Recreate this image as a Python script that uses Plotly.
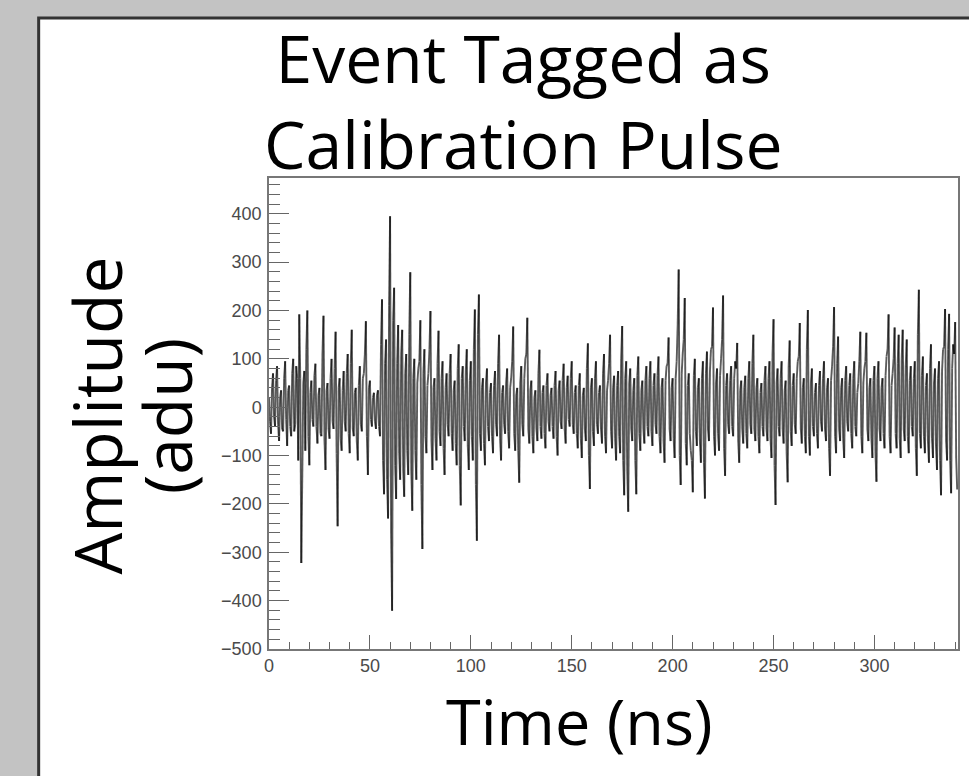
import plotly.graph_objects as go

# Waveform amplitude (adu) at whole ns
amp_0_99 = [
    20, -55, 70, -40, 85, -70, 35, -50, 95, -80,
    45, -60, 100, -35, 60, 192, -322, 50, -90, 200,
    -120, 55, -40, 90, -75, 40, -60, 189, -130, 50,
    -65, 100, -45, 156, -246, 60, -90, 75, -50, 110,
    -95, 160, -60, 40, -110, 85, -50, 70, 178, -140,
    55, -40, 30, -45, 35, -60, 223, -180, 140, -230,
    395, -421, 247, -190, 170, -150, 160, -185, 110, -140,
    279, -214, 100, -150, 80, 180, -293, 120, -95, 70,
    199, -130, 60, -110, 158, -80, 95, -140, 70, -60,
    110, -90, 55, -120, 130, -203, 85, -70, 120, -130,
]
amp_100_199 = [
    95, -110, 202, -276, 233, -90, 60, -120, 80, -70,
    50, -95, 75, -60, 150, -110, 45, -55, 80, -85,
    60, 167, -90, 40, -156, 85, -60, 100, 185, -75,
    55, -95, 35, -70, 119, -65, 45, -85, 70, -50,
    40, -65, 75, -100, 55, -45, 90, -75, 65, -40,
    95, -55, 45, -85, 70, -105, 40, -70, 132, -169,
    60, -80, 95, -55, 45, -75, 110, -95, 55, 150,
    -85, 65, -110, 75, -95, 168, -182, 95, -216, 80,
    -70, 60, -180, 105, -90, 55, -75, 85, -60, 95,
    -80, 70, -55, 105, -95, 60, -115, 85, 144, -70,
]
amp_200_299 = [
    60, -105, 95, 285, -161, 110, 226, -120, 70, -90,
    -176, 100, -80, 60, -115, 95, -189, 115, -70, 120,
    206, -100, 80, -90, 100, 231, -142, 70, -55, 85,
    -60, 95, 133, -115, 55, -75, 65, -85, 95, -55,
    150, -70, 60, -95, 50, -60, 85, -70, 95, -105,
    182, -202, 80, -60, 95, -75, 55, -155, 138, -80,
    70, -55, 95, 174, -75, 60, -95, 201, -100, 80,
    -60, 50, -85, 75, -50, 95, -70, 60, -142, 85,
    207, -95, 146, -70, 60, -105, 85, -50, 70, -85,
    95, -60, 50, 156, -95, 80, 154, -70, 60, -105,
]
amp_300_341 = [
    85, -154, 95, -70, 60, -85, 105, 192, -95, 70,
    165, -85, 150, -105, 160, -70, 140, -95, 85, -60,
    95, -142, 243, -85, 105, -95, 70, -115, 130, -105,
    80, -130, 95, -182, 120, 203, -110, 193, -178, 130,
    176, -170,
]
# Samples in between (at whole ns + 0.5)
half_0_99 = [
    -30, 40, -20, 55, -35, 20, -45, 60, -25, 35,
    -40, 70, -50, 85, -110, 60, -140, 75, 120, -60,
    30, -25, 65, -40, 25, -55, 110, -70, 35, -45,
    60, -30, 80, -95, 40, -65, 35, -30, 70, -55,
    90, -45, 30, -70, 45, -35, 60, 110, -60, 40,
    -25, 20, -30, 25, -40, 130, -110, 90, -150, 210,
    -260, 180, -120, 90, -95, 110, -130, 70, -90, 150,
    -130, 60, -90, 50, 95, -160, 70, -60, 45, 120,
    -70, 40, -65, 90, -50, 60, -85, 40, -35, 70,
    -55, 35, -75, 80, -120, 60, -40, 75, -80, 55,
]
half_100_199 = [
    -60, 120, -160, 150, -55, 40, -75, 50, -40, 30,
    -60, 45, -35, 90, -65, 30, -35, 50, -50, 40,
    95, -55, 25, -90, 50, -35, 60, 110, -45, 35,
    -60, 20, -45, 70, -40, 30, -55, 45, -30, 25,
    -40, 45, -60, 35, -30, 55, -45, 40, -25, 60,
    -35, 30, -55, 45, -65, 25, -45, 80, -100, 40,
    -50, 60, -35, 30, -45, 70, -60, 35, 90, -50,
    40, -65, 45, -60, 100, -110, 60, -130, 50, -45,
    35, -110, 65, -55, 35, -45, 55, -40, 60, -50,
    45, -35, 65, -60, 40, -70, 55, 90, -45, 40,
]
half_200_299 = [
    -65, 60, 170, -100, 70, 140, -75, 45, -55, -110,
    65, -50, 40, -70, 60, -115, 70, -45, 75, 125,
    -60, 50, -55, 65, 140, -85, 45, -35, 55, -40,
    60, 80, -70, 35, -45, 40, -55, 60, -35, 90,
    -45, 40, -60, 30, -40, 55, -45, 60, -65, 110,
    -120, 50, -40, 60, -45, 35, -95, 85, -50, 45,
    -35, 60, 105, -45, 40, -60, 120, -60, 50, -40,
    30, -55, 45, -30, 60, -45, 40, -85, 55, 125,
    -60, 90, -45, 40, -65, 55, -30, 45, -55, 60,
    -40, 30, 95, -60, 50, 95, -45, 40, -65, 55,
]
half_300_340 = [
    -95, 60, -45, 40, -55, 65, 120, -60, 45, 100,
    -55, 90, -65, 100, -45, 85, -60, 55, -40, 60,
    -85, 150, -55, 65, -60, 45, -70, 80, -65, 50,
    -80, 60, -110, 75, 125, -70, 120, -110, 80, 110,
    -105,
]
amplitude_whole = amp_0_99 + amp_100_199 + amp_200_299 + amp_300_341
amplitude_half = half_0_99 + half_100_199 + half_200_299 + half_300_340

x_ticks = [0, 50, 100, 150, 200, 250, 300]
y_ticks = [-500, -400, -300, -200, -100, 0, 100, 200, 300, 400]

title_text = "Event Tagged as<br>Calibration Pulse"
y_title_lines = ["Amplitude", "(adu)"]
x_title = "Time (ns)"

# merge into one time-ordered waveform
time_ns, amplitude = [], []
for i, a in enumerate(amplitude_whole):
    time_ns.append(float(i)); amplitude.append(a)
    if i < len(amplitude_half):
        time_ns.append(i + 0.5); amplitude.append(amplitude_half[i])

# split consecutive segments into two interleaved traces so overlaps darken
def segs(start):
    xs, ys = [], []
    for i in range(start, len(amplitude) - 1, 2):
        xs += [time_ns[i], time_ns[i + 1], None]
        ys += [amplitude[i], amplitude[i + 1], None]
    return xs, ys

fig = go.Figure()
for s in (0, 1):
    xs, ys = segs(s)
    fig.add_trace(go.Scatter(x=xs, y=ys, mode="lines", connectgaps=False,
                             line=dict(color="rgba(0,0,0,0.64)", width=1.9),
                             hoverinfo="skip", showlegend=False))

W, H = 969, 776
L, R, T, B = 269, 960, 178, 649
pw, ph = R - L, B - T
def px(x): return (x - L) / pw
def py(y): return (B - y) / ph

tickfont = dict(family="Liberation Sans, Arial, sans-serif", size=18, color="#4a4a4a")
fig.update_layout(
    width=W, height=H,
    margin=dict(l=L, r=W - R, t=T, b=H - B, pad=0),
    paper_bgcolor="#c3c3c3",
    plot_bgcolor="rgba(0,0,0,0)",
    showlegend=False,
    xaxis=dict(range=[0, 341.4], tickvals=x_ticks, ticks="inside", ticklen=14,
               tickwidth=1.3, tickcolor="#666", showgrid=False, zeroline=False,
               showline=True, linecolor="#777", linewidth=1.5, mirror=True,
               tickfont=tickfont,
               minor=dict(dtick=10, tick0=0, ticks="inside", ticklen=7,
                          tickwidth=1.3, tickcolor="#666", showgrid=False)),
    yaxis=dict(range=[-500, 474], tickvals=y_ticks, ticks="inside", ticklen=20,
               tickwidth=1.3, tickcolor="#666", showgrid=False, zeroline=False,
               showline=True, linecolor="#777", linewidth=1.5, mirror=True,
               tickfont=tickfont, ticklabelstandoff=2,
               minor=dict(dtick=20, tick0=0, ticks="inside", ticklen=11,
                          tickwidth=1.3, tickcolor="#666", showgrid=False)),
    shapes=[dict(type="rect", xref="paper", yref="paper",
                 x0=px(38), x1=px(990), y0=py(800), y1=py(18),
                 fillcolor="white", line=dict(color="#333", width=3),
                 layer="below")],
)

big = dict(family="Open Sans, Noto Sans, sans-serif", size=66, color="black")
ann = [
    dict(text=title_text, x=px(524), y=py(100), font=big),
    dict(text=x_title, x=px(580), y=py(720), font=dict(big, size=63)),
    dict(text=y_title_lines[0], x=px(95), y=py(416), textangle=-90, font=big),
    dict(text=y_title_lines[1], x=px(166), y=py(416), textangle=-90, font=big),
]
for a in ann:
    fig.add_annotation(xref="paper", yref="paper", xanchor="center",
                       yanchor="middle", showarrow=False, **a)

fig.write_html("out.html", config={"displayModeBar": False},
               post_script="document.body.style.margin='0';document.body.style.overflow='hidden';")
